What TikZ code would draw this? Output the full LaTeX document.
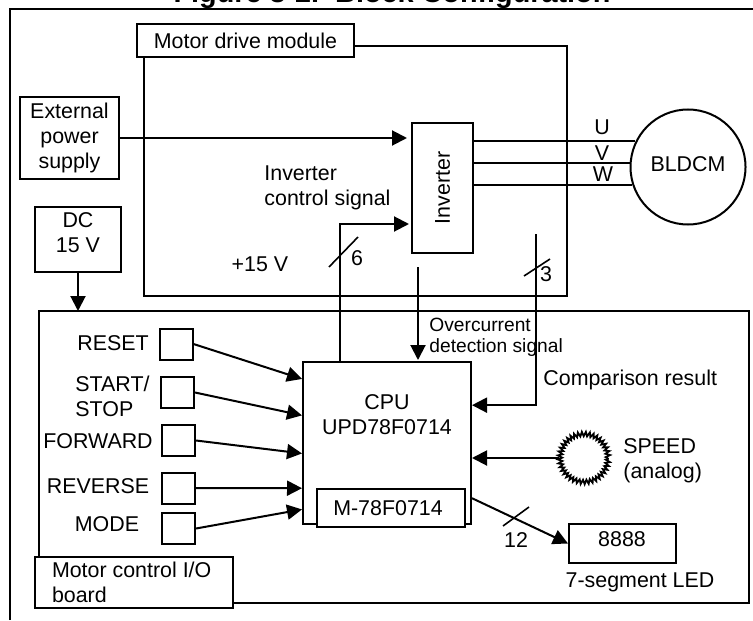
\documentclass[tikz,border=0pt]{standalone}
\usepackage{fontspec}
\setmainfont{Liberation Sans}
\usetikzlibrary{arrows.meta,decorations.pathmorphing}

\tikzset{
  every node/.style={font=\fontsize{10.7}{12.5}\selectfont, inner sep=0pt},
  blk/.style={draw, line width=1pt, fill=white, align=center},
  sw/.style={blk, minimum width=16.5pt, minimum height=15.5pt},
  wire/.style={line width=1pt},
  sig/.style={line width=1pt, -{Triangle[length=7.5pt,width=7.5pt]}},
  tick/.style={line width=.8pt}
}

\begin{document}
\begin{tikzpicture}[x=.5pt,y=-.5pt]
\useasboundingbox (0,0) rectangle (753,620);
\node [anchor=base, font=\fontsize{14.4}{16}\selectfont\bfseries] (title) at (392,3) {Figure 3-2.\ \ Block Configuration};

% outer frame runs off the page
\coordinate (frameLL) at (10,620);
\coordinate (frameUL) at (10,9);
\coordinate (frameUR) at (753,9);
\draw[wire] (frameLL) -- (frameUL) -- (frameUR);

% motor drive module
\coordinate (modTR) at (567,46);
\coordinate (modBR) at (567,296);
\coordinate (modBL) at (143.5,296);
\coordinate (modTL) at (143.5,46);
\draw[wire] (modTL) -- (modTR) -- (modBR) -- (modBL) -- cycle;
\node [blk, minimum width=108.5pt, minimum height=16.5pt] (modlbl) at (245.5,40.5) {Motor drive module};

\node [blk, minimum width=49.5pt, minimum height=41pt] (extsup) at (69.5,138) {External\\power\\supply};
\node [blk, minimum width=30.5pt, minimum height=65pt] (inv) at (442.5,188) {\rotatebox{90}{Inverter}};
\node [draw, circle, line width=1pt, minimum size=57.5pt] (motor) at (688,167) {};
\node (motorlbl) at (688,164) {BLDCM};
\node [blk] (dc) at (78,239.5) {\begin{minipage}[c][32.5pt][t]{43pt}\centering\vspace*{3pt}DC\\15 V\end{minipage}};

\draw[sig] (extsup.east) -- ([xshift=-2pt]extsup.east -| inv.west);
\draw[wire] (inv.east |- motor.154) -- (motor.154);
\draw[wire] (inv.east |- motor.176) -- (motor.176);
\draw[wire] (inv.east |- motor.198) -- (motor.198);
\node (ulbl) at (602,127) {U};
\node (vlbl) at (602,153) {V};
\node (wlbl) at (603,174) {W};

\node [anchor=west, align=left] (ctllbl) at (264,188) {Inverter\\control signal};
\node (plus15) at (260,264) {+15 V};

% control board
\coordinate (brdTL) at (38.5,311);
\coordinate (brdTR) at (749,311);
\coordinate (brdBR) at (749,603);
\coordinate (brdBL) at (38.5,603);
\draw[wire] (brdTL) -- (brdTR) -- (brdBR) -- (brdBL) -- cycle;
\node [blk] (brdlbl) at (134,582.5) {\begin{minipage}[c][25.5pt][c]{99pt}\leftskip=8.5pt Motor control I/O\\board\end{minipage}};
\draw[sig] (dc.south) -- (dc.south |- brdTL);

\node [blk, minimum width=84pt, minimum height=81pt] (cpu) at (387,443) {};
\node [align=center] (cpulbl) at (387,414.5) {CPU\\UPD78F0714};
\node [blk, minimum width=74pt, minimum height=19pt] (mod) at (391,508) {\hspace*{-3pt}M-78F0714};

% switches
\node [sw] (rstsw) at (176,344) {};
\node [sw] (stasw) at (177.5,392.5) {};
\node [sw] (fwdsw) at (178.5,440.5) {};
\node [sw] (revsw) at (178.5,488) {};
\node [sw] (modsw) at (178.5,528.5) {};
\node (rstlbl) at (113,343) {RESET};
\node [anchor=west, align=left] (stalbl) at (75,396) {START/\\STOP};
\node (fwdlbl) at (98,441) {FORWARD};
\node (revlbl) at (98,486) {REVERSE};
\node (modlb2) at (107,524) {MODE};
\draw[sig] (rstsw.east) -- (cpu.143);
\draw[sig] (stasw.east) -- (cpu.162);
\draw[sig] (fwdsw.east) -- (cpu.187);
\draw[sig] (revsw.east) -- (cpu.208);
\draw[sig] (modsw.east) -- (cpu.218);

% inverter control signal
\coordinate (ctlbend) at (340,224);
\draw[sig] (cpu.north -| ctlbend) -- (ctlbend) -- ([xshift=-1pt]ctlbend -| inv.west);
\coordinate (s6a) at (329,267);
\coordinate (s6b) at (358,237);
\draw[tick] (s6a) -- (s6b);
\node (six) at (357,258) {6};

% overcurrent
\coordinate (ocstart) at (418,267);
\draw[sig] (ocstart) -- ([yshift=.5pt]ocstart |- cpu.north);
\node [anchor=west, align=left, font=\fontsize{9.6}{10.5}\selectfont] (oclbl) at (429,337) {Overcurrent\\detection signal};

% comparison result
\coordinate (cmpstart) at (536,234);
\draw[sig] (cmpstart) -- (cmpstart |- cpu.24) -- (cpu.24);
\coordinate (s3a) at (524,276);
\coordinate (s3b) at (550,259);
\draw[tick] (s3a) -- (s3b);
\node (three) at (546,274) {3};
\node [anchor=west] (cmplbl) at (543,380) {Comparison result};

% speed knob
\node [draw, circle, line width=.9pt, minimum size=24pt,
  decorate, decoration={zigzag,segment length=1.85pt,amplitude=1.1pt}] (knob) at (584,458) {};
\draw[sig] (knob.west) -- (knob.west -| cpu.east);
\node [anchor=west, align=left] (spdlbl) at (623,460.5) {SPEED\\(analog)};

% LED
\node [blk, minimum width=53.5pt, minimum height=19.5pt] (led) at (622.5,543.5) {};
\node (ledtxt) at (622,539) {8888};
\node (ledlbl) at (640,582) {7-segment LED};
\draw[sig] (cpu.-33) -- (led.west);
\coordinate (s12a) at (503,526);
\coordinate (s12b) at (529,507);
\draw[tick] (s12a) -- (s12b);
\node (twelve) at (516,540) {12};
\end{tikzpicture}
\end{document}
